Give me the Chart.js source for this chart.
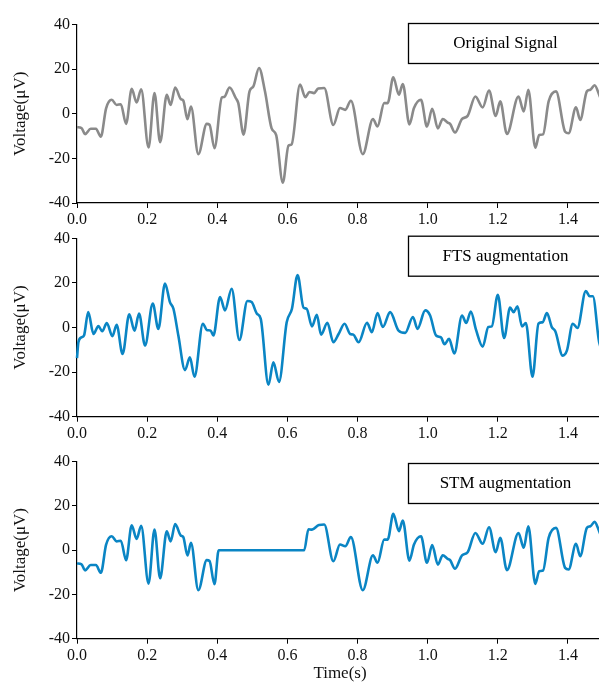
<!DOCTYPE html>
<html>
<head>
<meta charset="utf-8">
<script src="https://cdn.jsdelivr.net/npm/chart.js@4.4.1/dist/chart.umd.min.js"></script>
<style>
  html, body { margin: 0; padding: 0; background: #fff; overflow: hidden; width: 599px; height: 682px; }
  .panel { position: absolute; left: 0; }
</style>
</head>
<body>
<div class="panel" style="top:0px"><canvas id="c1" width="606" height="225"></canvas></div>
<div class="panel" style="top:225px"><canvas id="c2" width="606" height="225"></canvas></div>
<div class="panel" style="top:450px"><canvas id="c3" width="606" height="234"></canvas></div>
<script>
// ---- data ----
const panelLabels = ["Original Signal", "FTS augmentation", "STM augmentation"];
const yAxisTitle = "Voltage(\u03bcV)";
const xAxisTitle = "Time(s)";

const timeOriginal = [0.000,0.013,0.023,0.039,0.054,0.068,0.083,0.099,0.113,0.125,0.140,0.156,0.170,0.183,0.204,0.221,0.237,0.256,0.267,0.280,0.296,0.303,0.315,0.325,0.346,0.370,0.378,0.392,0.413,0.420,0.435,0.453,0.460,0.475,0.492,0.503,0.519,0.536,0.555,0.568,0.587,0.603,0.612,0.636,0.651,0.663,0.676,0.688,0.705,0.731,0.750,0.765,0.781,0.815,0.844,0.857,0.876,0.886,0.902,0.918,0.929,0.948,0.961,0.981,0.998,1.013,1.029,1.043,1.057,1.064,1.078,1.098,1.114,1.136,1.157,1.175,1.194,1.207,1.226,1.259,1.274,1.287,1.307,1.318,1.329,1.345,1.366,1.392,1.402,1.423,1.435,1.454,1.464,1.476,1.489,1.500];
const voltOriginal = [-6.0,-6.4,-9.1,-6.7,-6.7,-10.2,2.5,6.3,4.0,4.3,-4.5,11.2,5.1,11.0,-15.1,9.3,-12.7,8.5,4.0,11.8,6.6,6.0,-2.4,3.3,-18.1,-4.5,-4.9,-15.4,7.3,7.6,11.8,7.0,4.8,-9.3,10.1,12.3,20.6,10.1,-6.5,-9.5,-30.9,-14.3,-13.7,13.1,7.5,9.8,9.3,11.4,11.6,-5.0,2.6,1.8,5.9,-18.1,-2.3,-5.7,4.8,4.8,16.4,8.6,13.4,-4.7,2.6,6.3,-5.7,2.3,-6.5,-2.3,-3.9,-4.5,-8.4,-2.3,-0.9,7.8,2.9,10.4,-0.9,5.6,-9.0,7.8,1.1,10.8,-15.2,-9.5,-9.2,5.6,10.1,-8.0,-8.7,2.9,-2.7,10.1,10.8,12.8,8.6,4.0];

const timeFTS = [0.000,0.004,0.013,0.020,0.032,0.047,0.061,0.072,0.085,0.101,0.113,0.130,0.149,0.164,0.177,0.194,0.216,0.232,0.251,0.265,0.275,0.289,0.308,0.322,0.335,0.359,0.370,0.381,0.389,0.408,0.422,0.441,0.463,0.486,0.498,0.513,0.524,0.546,0.560,0.576,0.598,0.613,0.629,0.646,0.655,0.670,0.684,0.696,0.714,0.731,0.746,0.763,0.779,0.788,0.803,0.827,0.841,0.857,0.872,0.893,0.917,0.936,0.958,0.971,0.993,1.007,1.024,1.038,1.048,1.061,1.076,1.098,1.110,1.123,1.138,1.157,1.173,1.183,1.200,1.218,1.235,1.245,1.256,1.269,1.280,1.299,1.316,1.328,1.340,1.354,1.364,1.385,1.397,1.414,1.427,1.451,1.462,1.471,1.489,1.500];
const voltFTS = [-13.7,-6.6,-4.4,-3.6,6.9,-2.9,0.6,-1.7,2.0,-3.9,1.2,-11.9,5.9,-1.4,6.2,-8.1,10.7,-0.6,19.7,11.4,8.4,-3.6,-19.1,-13.4,-22.1,1.7,-1.1,-1.4,-3.6,13.7,7.7,17.4,-5.6,11.9,11.4,6.2,3.9,-25.7,-15.6,-24.4,2.4,8.4,23.5,8.9,8.4,0.5,5.7,-3.2,2.1,-6.6,-2.9,1.7,-2.9,-3.2,-6.6,2.1,-2.1,6.5,0.2,6.9,-1.4,-2.4,4.7,-0.6,7.7,5.4,-3.6,-4.4,-7.5,-5.1,-11.6,5.4,2.0,7.2,-1.1,-8.6,0.2,0.5,14.7,-4.7,8.9,6.9,9.5,0.5,2.0,-22.1,1.7,2.4,6.5,0.2,-1.7,-12.6,-10.4,1.7,-0.2,16.4,14.0,14.0,-6.6,-11.0];

const timeSTM = [0.000,0.013,0.023,0.039,0.054,0.068,0.083,0.099,0.113,0.125,0.140,0.156,0.170,0.183,0.204,0.221,0.237,0.256,0.267,0.280,0.296,0.303,0.315,0.325,0.346,0.370,0.378,0.392,0.404,0.648,0.660,0.670,0.690,0.705,0.731,0.750,0.765,0.781,0.815,0.844,0.857,0.876,0.886,0.902,0.918,0.929,0.948,0.961,0.981,0.998,1.013,1.029,1.043,1.057,1.064,1.078,1.098,1.114,1.136,1.157,1.175,1.194,1.207,1.226,1.259,1.274,1.287,1.307,1.318,1.329,1.345,1.366,1.392,1.402,1.423,1.435,1.454,1.464,1.476,1.489,1.500];
const voltSTM = [-6.0,-6.4,-9.1,-6.7,-6.7,-10.2,2.5,6.3,4.0,4.3,-4.5,11.2,5.1,11.0,-15.1,9.3,-12.7,8.5,4.0,11.8,6.6,6.0,-2.4,3.3,-18.1,-4.5,-4.9,-15.4,0.0,0.0,9.5,9.3,11.4,11.6,-5.0,2.6,1.8,5.9,-18.1,-2.3,-5.7,4.8,4.8,16.4,8.6,13.4,-4.7,2.6,6.3,-5.7,2.3,-6.5,-2.3,-3.9,-4.5,-8.4,-2.3,-0.9,7.8,2.9,10.4,-0.9,5.6,-9.0,7.8,1.1,10.8,-15.2,-9.5,-9.2,5.6,10.1,-8.0,-8.7,2.9,-2.7,10.1,10.8,12.8,8.6,4.0];

const yTickValues = [-40, -20, 0, 20, 40];
const xTickStep = 0.2;

// ---- drawing ----
Chart.defaults.font.family = "'Liberation Serif', 'Times New Roman', serif";
Chart.defaults.color = '#111';

function zip(xs, ys) { return xs.map((x, i) => ({ x: x, y: ys[i] })); }

const boxPlugin = {
  id: 'labelBox',
  afterDraw(chart, args, opts) {
    const ctx = chart.ctx;
    const ca = chart.chartArea;
    const left = 408;
    const top = opts.boxTop;
    const w = ca.right - left;
    const h = 40;
    ctx.save();
    ctx.strokeStyle = '#000';
    ctx.lineWidth = 1.3;
    ctx.strokeRect(left + 0.5, top + 0.5, w, h);
    ctx.fillStyle = '#000';
    ctx.font = "17px 'Liberation Serif', 'Times New Roman', serif";
    ctx.textAlign = 'center';
    ctx.textBaseline = 'middle';
    ctx.fillText(opts.text, left + w / 2, top + h / 2 + 1);
    ctx.restore();
  }
};

function makePanel(id, xs, ys, color, label, geom, showXTitle) {
  const canvas = document.getElementById(id);
  const H = canvas.height;
  new Chart(canvas, {
    type: 'line',
    data: {
      datasets: [{
        label: label,
        data: zip(xs, ys),
        borderColor: color,
        borderWidth: 2.6,
        pointRadius: 0,
        fill: false,
        cubicInterpolationMode: 'monotone',
        clip: false
      }]
    },
    options: {
      responsive: false,
      animation: false,
      devicePixelRatio: 1,
      layout: { padding: { top: geom.chartTop, left: 0, right: 3, bottom: 0 } },
      plugins: {
        legend: { display: false },
        tooltip: { enabled: false },
        labelBox: { text: label, boxTop: geom.boxTop }
      },
      scales: {
        x: {
          type: 'linear',
          min: 0,
          max: 1.5,
          afterFit(scale) { scale.height = H - geom.chartBottom; },
          ticks: {
            stepSize: xTickStep,
            includeBounds: false,
            padding: 2,
            maxRotation: 0,
            font: { size: 16 },
            color: '#111',
            callback: (v) => Number(v).toFixed(1)
          },
          grid: { display: true, drawOnChartArea: false, drawTicks: true, tickLength: 5, color: '#000', tickColor: '#000' },
          border: { display: true, color: '#000', width: 1.2 },
          title: {
            display: showXTitle,
            text: xAxisTitle,
            font: { size: 17 },
            color: '#111',
            padding: { top: 0, bottom: 0 }
          }
        },
        y: {
          min: -40,
          max: 40,
          afterFit(scale) { scale.width = 77; },
          afterBuildTicks(scale) { scale.ticks = yTickValues.map(v => ({ value: v })); },
          ticks: { padding: 2, font: { size: 16 }, color: '#111' },
          grid: { display: true, drawOnChartArea: false, drawTicks: true, tickLength: 5, color: '#000', tickColor: '#000' },
          border: { display: true, color: '#000', width: 1.2 },
          title: {
            display: true,
            text: yAxisTitle,
            font: { size: 17 },
            color: '#111',
            padding: { top: 10, bottom: 0 }
          }
        }
      }
    },
    plugins: [boxPlugin]
  });
}

makePanel('c1', timeOriginal, voltOriginal, '#8a8a8a', panelLabels[0], { chartTop: 24.7, chartBottom: 203, boxTop: 23 }, false);
makePanel('c2', timeFTS, voltFTS, '#0a85c4', panelLabels[1], { chartTop: 13.3, chartBottom: 191.7, boxTop: 10.7 }, false);
makePanel('c3', timeSTM, voltSTM, '#0a85c4', panelLabels[2], { chartTop: 11.7, chartBottom: 188.7, boxTop: 13 }, true);
</script>
</body>
</html>
